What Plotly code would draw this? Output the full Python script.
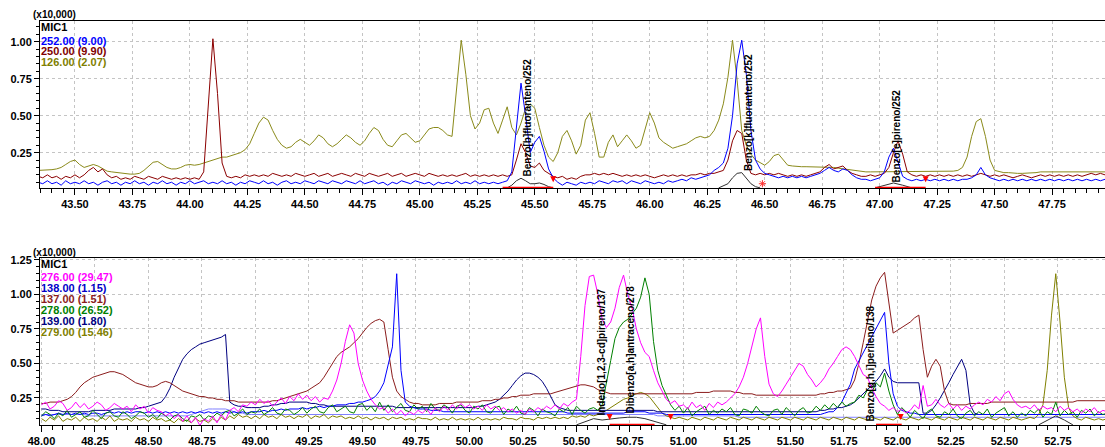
import numpy as np
import plotly.graph_objects as go

# ---------------- time grids (instrument sampling, minutes) ----------------
top_t = np.round(43.34 + 0.02 * np.arange(233), 2)
bot_t = np.round(48.00 + 0.02 * np.arange(250), 2)

# ---------------- TOP PANEL (x10,000) ----------------
top_126 = [
    0.13, 0.13, 0.13, 0.135, 0.14, 0.15, 0.17, 0.19, 0.20, 0.17,
    0.15, 0.16, 0.17, 0.16, 0.14, 0.125, 0.12, 0.115, 0.11, 0.11,
    0.105, 0.105, 0.11, 0.13, 0.16, 0.185, 0.19, 0.17, 0.15, 0.14,
    0.14, 0.15, 0.165, 0.17, 0.165, 0.17, 0.18, 0.19, 0.20, 0.21,
    0.22, 0.22, 0.23, 0.24, 0.25, 0.27, 0.31, 0.38, 0.45, 0.49,
    0.47, 0.40, 0.34, 0.30, 0.28, 0.29, 0.32, 0.34, 0.32, 0.30,
    0.33, 0.37, 0.35, 0.31, 0.29, 0.31, 0.34, 0.37, 0.35, 0.32,
    0.30, 0.33, 0.38, 0.42, 0.40, 0.34, 0.30, 0.29, 0.33, 0.37,
    0.38, 0.35, 0.32, 0.33, 0.37, 0.41, 0.42, 0.42, 0.40, 0.37,
    0.36, 0.70, 1.01, 0.78, 0.50, 0.41, 0.45, 0.54, 0.55, 0.45,
    0.38, 0.47, 0.56, 0.42, 0.37, 0.45, 0.55, 0.58, 0.55, 0.42,
    0.30, 0.22, 0.19, 0.25, 0.36, 0.40, 0.33, 0.24, 0.30, 0.47,
    0.52, 0.38, 0.22, 0.22, 0.32, 0.37, 0.29, 0.33, 0.37, 0.33,
    0.28, 0.30, 0.42, 0.52, 0.45, 0.35, 0.32, 0.30, 0.28, 0.29,
    0.30, 0.31, 0.33, 0.35, 0.36, 0.35, 0.36, 0.40, 0.47, 0.58,
    0.76, 1.01, 0.74, 0.40, 0.30, 0.24, 0.20, 0.18, 0.165, 0.19,
    0.23, 0.24, 0.20, 0.165, 0.16, 0.155, 0.155, 0.155, 0.155, 0.155,
    0.155, 0.15, 0.15, 0.15, 0.145, 0.14, 0.135, 0.13, 0.13, 0.125,
    0.12, 0.12, 0.12, 0.12, 0.12, 0.12, 0.12, 0.12, 0.12, 0.12,
    0.12, 0.12, 0.12, 0.12, 0.12, 0.12, 0.12, 0.12, 0.12, 0.125,
    0.13, 0.15, 0.22, 0.36, 0.46, 0.48, 0.36, 0.20, 0.13, 0.12,
    0.115, 0.115, 0.11, 0.11, 0.11, 0.11, 0.11, 0.115, 0.12, 0.12,
    0.12, 0.12, 0.12, 0.12, 0.12, 0.12, 0.12, 0.12, 0.12, 0.12,
    0.12, 0.12, 0.12,
]
top_250 = [
    0.09, 0.08, 0.10, 0.08, 0.09, 0.07, 0.09, 0.08, 0.10, 0.08,
    0.10, 0.13, 0.15, 0.12, 0.14, 0.10, 0.08, 0.09, 0.07, 0.08,
    0.07, 0.09, 0.08, 0.07, 0.09, 0.08, 0.07, 0.09, 0.08, 0.07,
    0.08, 0.07, 0.08, 0.07, 0.08, 0.07, 0.12, 0.55, 1.02, 0.65,
    0.18, 0.09, 0.08, 0.09, 0.08, 0.10, 0.09, 0.10, 0.09, 0.10,
    0.09, 0.11, 0.10, 0.09, 0.10, 0.09, 0.11, 0.10, 0.09, 0.10,
    0.11, 0.09, 0.10, 0.11, 0.09, 0.10, 0.11, 0.10, 0.09, 0.11,
    0.10, 0.09, 0.11, 0.10, 0.09, 0.10, 0.11, 0.09, 0.10, 0.11,
    0.09, 0.10, 0.11, 0.10, 0.09, 0.11, 0.10, 0.09, 0.10, 0.09,
    0.10, 0.09, 0.10, 0.11, 0.09, 0.10, 0.09, 0.10, 0.09, 0.10,
    0.09, 0.10, 0.09, 0.10, 0.20, 0.31, 0.25, 0.16, 0.15, 0.18,
    0.13, 0.11, 0.09, 0.08, 0.09, 0.07, 0.08, 0.07, 0.09, 0.10,
    0.10, 0.11, 0.10, 0.11, 0.10, 0.11, 0.10, 0.09, 0.10, 0.09,
    0.10, 0.09, 0.10, 0.09, 0.08, 0.09, 0.10, 0.09, 0.10, 0.09,
    0.10, 0.09, 0.10, 0.10, 0.11, 0.10, 0.11, 0.11, 0.12, 0.13,
    0.20, 0.33, 0.40, 0.38, 0.20, 0.11, 0.10, 0.11, 0.10, 0.11,
    0.10, 0.11, 0.10, 0.09, 0.10, 0.09, 0.10, 0.09, 0.10, 0.11,
    0.12, 0.15, 0.17, 0.14, 0.15, 0.16, 0.13, 0.11, 0.10, 0.09,
    0.09, 0.10, 0.09, 0.10, 0.11, 0.15, 0.25, 0.33, 0.24, 0.12,
    0.10, 0.09, 0.10, 0.09, 0.10, 0.09, 0.10, 0.09, 0.10, 0.09,
    0.10, 0.09, 0.10, 0.09, 0.10, 0.11, 0.10, 0.09, 0.10, 0.09,
    0.10, 0.09, 0.08, 0.09, 0.10, 0.09, 0.08, 0.09, 0.10, 0.09,
    0.10, 0.09, 0.10, 0.09, 0.10, 0.09, 0.10, 0.09, 0.10, 0.11,
    0.10, 0.11, 0.10,
]
top_252 = [
    0.05, 0.04, 0.06, 0.04, 0.05, 0.03, 0.06, 0.04, 0.05, 0.04,
    0.06, 0.04, 0.05, 0.03, 0.05, 0.06, 0.04, 0.05, 0.03, 0.05,
    0.04, 0.06, 0.04, 0.05, 0.03, 0.05, 0.04, 0.06, 0.04, 0.05,
    0.03, 0.05, 0.04, 0.06, 0.04, 0.05, 0.06, 0.04, 0.05, 0.04,
    0.06, 0.04, 0.05, 0.03, 0.05, 0.04, 0.06, 0.05, 0.04, 0.06,
    0.04, 0.05, 0.03, 0.05, 0.06, 0.04, 0.05, 0.04, 0.06, 0.05,
    0.04, 0.06, 0.05, 0.04, 0.06, 0.05, 0.04, 0.06, 0.05, 0.04,
    0.06, 0.04, 0.05, 0.06, 0.04, 0.05, 0.03, 0.05, 0.04, 0.06,
    0.05, 0.04, 0.06, 0.05, 0.04, 0.05, 0.03, 0.05, 0.04, 0.05,
    0.04, 0.06, 0.04, 0.05, 0.04, 0.06, 0.04, 0.05, 0.04, 0.05,
    0.04, 0.05, 0.06, 0.12, 0.42, 0.72, 0.50, 0.25, 0.32, 0.36,
    0.26, 0.14, 0.08, 0.05, 0.03, 0.05, 0.04, 0.03, 0.05, 0.04,
    0.05, 0.04, 0.06, 0.05, 0.04, 0.06, 0.05, 0.06, 0.04, 0.06,
    0.05, 0.04, 0.06, 0.05, 0.04, 0.05, 0.04, 0.06, 0.05, 0.06,
    0.07, 0.06, 0.08, 0.07, 0.08, 0.09, 0.10, 0.13, 0.15, 0.18,
    0.28, 0.50, 0.85, 1.01, 0.78, 0.40, 0.20, 0.14, 0.11, 0.10,
    0.09, 0.08, 0.09, 0.08, 0.09, 0.08, 0.09, 0.08, 0.09, 0.10,
    0.11, 0.13, 0.15, 0.13, 0.12, 0.14, 0.13, 0.10, 0.08, 0.07,
    0.07, 0.06, 0.07, 0.08, 0.12, 0.22, 0.28, 0.18, 0.09, 0.07,
    0.06, 0.07, 0.06, 0.07, 0.06, 0.07, 0.06, 0.07, 0.06, 0.07,
    0.06, 0.07, 0.07, 0.08, 0.10, 0.15, 0.10, 0.08, 0.07, 0.06,
    0.07, 0.06, 0.07, 0.06, 0.07, 0.06, 0.07, 0.06, 0.07, 0.06,
    0.07, 0.06, 0.07, 0.06, 0.07, 0.06, 0.07, 0.06, 0.07, 0.06,
    0.07, 0.06, 0.07,
]
top_tic_t = [45.38, 45.40, 45.42, 45.44, 45.46, 45.48, 45.50, 45.52, 45.54, 45.56, 45.58, None,
             46.30, 46.34, 46.36, 46.38, 46.40, 46.42, 46.44, 46.46, 46.48, None,
             46.98, 47.02, 47.06, 47.10, 47.14]
top_tic = [0.012, 0.03, 0.06, 0.077, 0.06, 0.04, 0.04, 0.045, 0.035, 0.02, 0.012, None,
           0.012, 0.04, 0.08, 0.11, 0.115, 0.08, 0.04, 0.02, 0.012, None,
           0.012, 0.03, 0.045, 0.03, 0.012]

# ---------------- BOTTOM PANEL (x10,000) ----------------
bot_276 = [
    0.20, 0.22, 0.17, 0.19, 0.23, 0.21, 0.16, 0.18, 0.22, 0.18,
    0.21, 0.17, 0.19, 0.22, 0.20, 0.16, 0.18, 0.21, 0.19, 0.17,
    0.19, 0.15, 0.20, 0.17, 0.19, 0.14, 0.18, 0.16, 0.15, 0.12,
    0.14, 0.10, 0.13, 0.08, 0.12, 0.07, 0.11, 0.05, 0.10, 0.08,
    0.12, 0.07, 0.13, 0.09, 0.16, 0.18, 0.15, 0.20, 0.19, 0.22,
    0.20, 0.24, 0.21, 0.23, 0.19, 0.22, 0.25, 0.21, 0.26, 0.23,
    0.28, 0.24, 0.27, 0.23, 0.26, 0.22, 0.25, 0.24, 0.30, 0.38,
    0.50, 0.66, 0.78, 0.72, 0.50, 0.38, 0.30, 0.24, 0.20, 0.17,
    0.18, 0.14, 0.17, 0.13, 0.16, 0.12, 0.15, 0.13, 0.16, 0.14,
    0.17, 0.13, 0.18, 0.15, 0.19, 0.16, 0.20, 0.17, 0.21, 0.18,
    0.20, 0.17, 0.19, 0.16, 0.20, 0.17, 0.19, 0.16, 0.18, 0.15,
    0.17, 0.14, 0.16, 0.13, 0.17, 0.15, 0.18, 0.16, 0.19, 0.17,
    0.20, 0.17, 0.21, 0.19, 0.22, 0.24, 0.55, 0.92, 1.13, 1.14,
    1.00, 0.82, 0.76, 0.80, 0.90, 1.05, 1.14, 1.00, 0.90, 0.75,
    0.65, 0.58, 0.55, 0.45, 0.36, 0.30, 0.24, 0.21, 0.23, 0.19,
    0.20, 0.17, 0.22, 0.18, 0.20, 0.16, 0.21, 0.18, 0.22, 0.20,
    0.22, 0.25, 0.28, 0.33, 0.40, 0.50, 0.62, 0.75, 0.83, 0.55,
    0.35, 0.28, 0.26, 0.30, 0.35, 0.40, 0.45, 0.50, 0.48, 0.42,
    0.38, 0.33, 0.36, 0.40, 0.46, 0.50, 0.55, 0.60, 0.62, 0.60,
    0.55, 0.48, 0.42, 0.40, 0.32, 0.26, 0.21, 0.19, 0.16, 0.18,
    0.15, 0.17, 0.14, 0.16, 0.20, 0.17, 0.34, 0.19, 0.20, 0.24,
    0.20, 0.18, 0.21, 0.17, 0.20, 0.16, 0.19, 0.17, 0.20, 0.22,
    0.20, 0.24, 0.22, 0.26, 0.23, 0.28, 0.30, 0.24, 0.20, 0.18,
    0.19, 0.17, 0.20, 0.16, 0.19, 0.17, 0.18, 0.15, 0.19, 0.16,
    0.18, 0.15, 0.17, 0.14, 0.17, 0.15, 0.18, 0.14, 0.16, 0.15,
]
bot_138 = [
    0.12, 0.13, 0.12, 0.13, 0.14, 0.13, 0.14, 0.13, 0.14, 0.13,
    0.14, 0.13, 0.14, 0.14, 0.13, 0.14, 0.15, 0.14, 0.15, 0.14,
    0.15, 0.14, 0.15, 0.15, 0.14, 0.15, 0.14, 0.15, 0.14, 0.15,
    0.14, 0.15, 0.14, 0.15, 0.14, 0.15, 0.14, 0.15, 0.14, 0.15,
    0.14, 0.15, 0.14, 0.15, 0.14, 0.15, 0.14, 0.15, 0.14, 0.15,
    0.15, 0.15, 0.16, 0.15, 0.16, 0.16, 0.17, 0.16, 0.17, 0.17,
    0.17, 0.18, 0.17, 0.18, 0.18, 0.19, 0.18, 0.19, 0.19, 0.20,
    0.20, 0.20, 0.21, 0.21, 0.22, 0.22, 0.23, 0.24, 0.26, 0.30,
    0.36, 0.48, 0.62, 1.15, 0.45, 0.22, 0.19, 0.18, 0.17, 0.17,
    0.17, 0.16, 0.16, 0.16, 0.15, 0.15, 0.15, 0.15, 0.15, 0.15,
    0.15, 0.15, 0.15, 0.15, 0.15, 0.15, 0.15, 0.15, 0.15, 0.15,
    0.15, 0.15, 0.15, 0.15, 0.15, 0.15, 0.15, 0.15, 0.15, 0.15,
    0.15, 0.15, 0.15, 0.14, 0.14, 0.14, 0.14, 0.14, 0.14, 0.14,
    0.14, 0.14, 0.14, 0.14, 0.14, 0.14, 0.14, 0.15, 0.15, 0.15,
    0.15, 0.15, 0.14, 0.14, 0.14, 0.14, 0.13, 0.13, 0.13, 0.13,
    0.13, 0.13, 0.13, 0.13, 0.13, 0.13, 0.13, 0.13, 0.13, 0.13,
    0.13, 0.13, 0.13, 0.13, 0.13, 0.13, 0.13, 0.13, 0.13, 0.13,
    0.13, 0.13, 0.13, 0.13, 0.13, 0.13, 0.13, 0.13, 0.13, 0.13,
    0.13, 0.13, 0.13, 0.14, 0.15, 0.15, 0.18, 0.22, 0.28, 0.35,
    0.46, 0.52, 0.58, 0.64, 0.70, 0.76, 0.82, 0.87, 0.50, 0.28,
    0.19, 0.16, 0.15, 0.14, 0.14, 0.13, 0.13, 0.13, 0.13, 0.13,
    0.13, 0.13, 0.13, 0.13, 0.13, 0.13, 0.13, 0.13, 0.13, 0.13,
    0.13, 0.13, 0.13, 0.13, 0.13, 0.13, 0.13, 0.13, 0.13, 0.13,
    0.13, 0.13, 0.13, 0.13, 0.13, 0.13, 0.13, 0.13, 0.13, 0.13,
    0.13, 0.13, 0.13, 0.13, 0.13, 0.13, 0.13, 0.13, 0.13, 0.13,
]
bot_137 = [
    0.21, 0.21, 0.22, 0.22, 0.22, 0.23, 0.24, 0.26, 0.29, 0.33,
    0.36, 0.38, 0.40, 0.41, 0.42, 0.43, 0.44, 0.44, 0.43, 0.42,
    0.40, 0.38, 0.36, 0.35, 0.34, 0.33, 0.33, 0.34, 0.36, 0.37,
    0.36, 0.34, 0.32, 0.30, 0.29, 0.28, 0.27, 0.26, 0.26, 0.25,
    0.25, 0.24, 0.24, 0.23, 0.23, 0.23, 0.22, 0.22, 0.22, 0.22,
    0.22, 0.22, 0.22, 0.22, 0.23, 0.23, 0.24, 0.25, 0.26, 0.27,
    0.28, 0.29, 0.30, 0.32, 0.34, 0.36, 0.40, 0.45, 0.50, 0.55,
    0.58, 0.60, 0.62, 0.65, 0.68, 0.72, 0.76, 0.79, 0.81, 0.82,
    0.80, 0.60, 0.40, 0.30, 0.26, 0.24, 0.22, 0.21, 0.21, 0.20,
    0.20, 0.20, 0.20, 0.21, 0.21, 0.21, 0.21, 0.22, 0.22, 0.22,
    0.22, 0.22, 0.22, 0.23, 0.23, 0.23, 0.24, 0.24, 0.25, 0.25,
    0.26, 0.26, 0.27, 0.27, 0.27, 0.28, 0.28, 0.28, 0.28, 0.28,
    0.29, 0.30, 0.31, 0.32, 0.33, 0.34, 0.345, 0.345, 0.34, 0.33,
    0.31, 0.30, 0.29, 0.28, 0.28, 0.28, 0.28, 0.28, 0.28, 0.28,
    0.28, 0.28, 0.28, 0.28, 0.28, 0.28, 0.28, 0.28, 0.28, 0.28,
    0.28, 0.28, 0.28, 0.29, 0.29, 0.29, 0.29, 0.30, 0.30, 0.30,
    0.30, 0.30, 0.29, 0.29, 0.28, 0.28, 0.28, 0.27, 0.27, 0.27,
    0.27, 0.27, 0.27, 0.27, 0.27, 0.27, 0.27, 0.27, 0.27, 0.27,
    0.27, 0.27, 0.28, 0.28, 0.29, 0.29, 0.30, 0.30, 0.31, 0.32,
    0.38, 0.50, 0.65, 0.80, 0.96, 1.06, 1.12, 1.16, 0.95, 0.72,
    0.74, 0.76, 0.78, 0.80, 0.83, 0.85, 0.60, 0.40, 0.48, 0.53,
    0.48, 0.30, 0.21, 0.20, 0.20, 0.20, 0.20, 0.21, 0.21, 0.21,
    0.21, 0.21, 0.22, 0.22, 0.22, 0.22, 0.22, 0.22, 0.22, 0.22,
    0.22, 0.22, 0.22, 0.22, 0.22, 0.22, 0.22, 0.22, 0.22, 0.22,
    0.22, 0.22, 0.23, 0.23, 0.23, 0.23, 0.23, 0.23, 0.23, 0.23,
]
bot_278 = [
    0.12, 0.15, 0.13, 0.10, 0.14, 0.12, 0.16, 0.11, 0.13, 0.15,
    0.11, 0.12, 0.16, 0.13, 0.10, 0.14, 0.15, 0.12, 0.11, 0.15,
    0.13, 0.10, 0.12, 0.15, 0.14, 0.11, 0.13, 0.10, 0.14, 0.12,
    0.09, 0.12, 0.13, 0.10, 0.08, 0.12, 0.11, 0.13, 0.09, 0.12,
    0.11, 0.14, 0.12, 0.15, 0.16, 0.12, 0.14, 0.17, 0.13, 0.15,
    0.14, 0.17, 0.13, 0.15, 0.18, 0.14, 0.13, 0.17, 0.16, 0.13,
    0.15, 0.18, 0.14, 0.17, 0.19, 0.15, 0.14, 0.18, 0.20, 0.15,
    0.17, 0.19, 0.15, 0.14, 0.20, 0.21, 0.16, 0.19, 0.15, 0.22,
    0.16, 0.20, 0.15, 0.18, 0.21, 0.16, 0.15, 0.20, 0.17, 0.19,
    0.15, 0.21, 0.17, 0.16, 0.20, 0.18, 0.14, 0.19, 0.20, 0.16,
    0.14, 0.19, 0.17, 0.20, 0.15, 0.14, 0.18, 0.19, 0.13, 0.17,
    0.15, 0.19, 0.14, 0.13, 0.18, 0.16, 0.12, 0.17, 0.15, 0.14,
    0.12, 0.17, 0.15, 0.18, 0.13, 0.19, 0.16, 0.14, 0.17, 0.18,
    0.16, 0.20, 0.35, 0.52, 0.68, 0.76, 0.80, 0.82, 0.86, 0.90,
    0.98, 1.12, 1.00, 0.66, 0.45, 0.34, 0.27, 0.20, 0.16, 0.19,
    0.14, 0.18, 0.12, 0.15, 0.17, 0.19, 0.13, 0.16, 0.14, 0.17,
    0.15, 0.18, 0.13, 0.12, 0.17, 0.16, 0.14, 0.19, 0.15, 0.13,
    0.12, 0.16, 0.17, 0.13, 0.18, 0.15, 0.12, 0.16, 0.18, 0.14,
    0.15, 0.19, 0.16, 0.20, 0.17, 0.21, 0.18, 0.22, 0.19, 0.21,
    0.22, 0.27, 0.25, 0.31, 0.29, 0.36, 0.33, 0.43, 0.30, 0.20,
    0.13, 0.18, 0.15, 0.11, 0.16, 0.13, 0.10, 0.15, 0.17, 0.12,
    0.11, 0.15, 0.13, 0.17, 0.12, 0.10, 0.14, 0.16, 0.12, 0.15,
    0.13, 0.17, 0.11, 0.14, 0.16, 0.18, 0.12, 0.15, 0.11, 0.14,
    0.12, 0.16, 0.14, 0.17, 0.11, 0.15, 0.13, 0.22, 0.12, 0.16,
    0.13, 0.15, 0.11, 0.16, 0.14, 0.17, 0.12, 0.15, 0.13, 0.14,
]
bot_139 = [
    0.17, 0.17, 0.16, 0.16, 0.16, 0.15, 0.15, 0.15, 0.15, 0.15,
    0.15, 0.15, 0.16, 0.16, 0.16, 0.16, 0.16, 0.17, 0.17, 0.17,
    0.17, 0.17, 0.17, 0.18, 0.18, 0.19, 0.20, 0.21, 0.22, 0.26,
    0.32, 0.40, 0.47, 0.53, 0.57, 0.60, 0.62, 0.64, 0.65, 0.66,
    0.67, 0.68, 0.69, 0.71, 0.22, 0.20, 0.19, 0.19, 0.18, 0.18,
    0.18, 0.18, 0.19, 0.19, 0.20, 0.20, 0.21, 0.21, 0.22, 0.22,
    0.22, 0.22, 0.22, 0.21, 0.21, 0.20, 0.20, 0.19, 0.19, 0.19,
    0.19, 0.19, 0.19, 0.19, 0.19, 0.19, 0.19, 0.19, 0.19, 0.19,
    0.19, 0.19, 0.19, 0.18, 0.18, 0.18, 0.18, 0.18, 0.18, 0.18,
    0.18, 0.18, 0.18, 0.18, 0.18, 0.18, 0.18, 0.18, 0.18, 0.18,
    0.18, 0.18, 0.19, 0.19, 0.20, 0.21, 0.22, 0.24, 0.27, 0.30,
    0.34, 0.38, 0.41, 0.43, 0.43, 0.42, 0.40, 0.37, 0.32, 0.26,
    0.20, 0.18, 0.17, 0.16, 0.16, 0.16, 0.16, 0.16, 0.16, 0.16,
    0.16, 0.16, 0.16, 0.16, 0.16, 0.16, 0.16, 0.16, 0.16, 0.16,
    0.16, 0.16, 0.16, 0.16, 0.15, 0.15, 0.15, 0.15, 0.15, 0.15,
    0.15, 0.15, 0.15, 0.15, 0.15, 0.15, 0.15, 0.15, 0.15, 0.15,
    0.15, 0.15, 0.15, 0.15, 0.15, 0.15, 0.15, 0.15, 0.15, 0.15,
    0.15, 0.15, 0.15, 0.15, 0.15, 0.15, 0.15, 0.15, 0.15, 0.15,
    0.15, 0.15, 0.16, 0.16, 0.17, 0.17, 0.18, 0.18, 0.19, 0.20,
    0.22, 0.25, 0.28, 0.31, 0.34, 0.37, 0.41, 0.46, 0.40, 0.37,
    0.36, 0.36, 0.36, 0.36, 0.36, 0.36, 0.14, 0.14, 0.16, 0.20,
    0.25, 0.30, 0.36, 0.42, 0.48, 0.53, 0.45, 0.20, 0.14, 0.13,
    0.13, 0.13, 0.13, 0.13, 0.13, 0.13, 0.13, 0.13, 0.13, 0.13,
    0.13, 0.13, 0.13, 0.13, 0.13, 0.13, 0.13, 0.13, 0.13, 0.13,
    0.13, 0.13, 0.13, 0.13, 0.13, 0.13, 0.13, 0.13, 0.13, 0.13,
]
bot_279 = [
    0.10, 0.08, 0.11, 0.09, 0.12, 0.08, 0.10, 0.09, 0.11, 0.08,
    0.11, 0.09, 0.10, 0.08, 0.11, 0.09, 0.12, 0.08, 0.10, 0.09,
    0.10, 0.08, 0.11, 0.09, 0.10, 0.08, 0.11, 0.09, 0.10, 0.08,
    0.09, 0.07, 0.10, 0.08, 0.09, 0.07, 0.10, 0.08, 0.09, 0.07,
    0.10, 0.08, 0.11, 0.09, 0.12, 0.10, 0.13, 0.11, 0.12, 0.10,
    0.12, 0.10, 0.13, 0.11, 0.12, 0.10, 0.13, 0.11, 0.12, 0.10,
    0.12, 0.11, 0.13, 0.10, 0.12, 0.11, 0.13, 0.10, 0.12, 0.11,
    0.12, 0.10, 0.11, 0.10, 0.12, 0.10, 0.11, 0.09, 0.11, 0.10,
    0.11, 0.09, 0.11, 0.10, 0.11, 0.09, 0.10, 0.09, 0.11, 0.10,
    0.10, 0.09, 0.11, 0.09, 0.10, 0.09, 0.11, 0.09, 0.10, 0.09,
    0.10, 0.09, 0.11, 0.09, 0.10, 0.09, 0.10, 0.09, 0.11, 0.10,
    0.10, 0.09, 0.11, 0.10, 0.10, 0.09, 0.11, 0.10, 0.11, 0.10,
    0.11, 0.10, 0.11, 0.10, 0.12, 0.11, 0.12, 0.11, 0.13, 0.12,
    0.13, 0.14, 0.16, 0.18, 0.20, 0.22, 0.24, 0.25, 0.27, 0.28,
    0.29, 0.28, 0.26, 0.22, 0.18, 0.14, 0.12, 0.11, 0.10, 0.11,
    0.10, 0.09, 0.11, 0.10, 0.09, 0.11, 0.10, 0.09, 0.11, 0.10,
    0.09, 0.11, 0.10, 0.09, 0.11, 0.10, 0.09, 0.11, 0.10, 0.09,
    0.11, 0.10, 0.09, 0.11, 0.10, 0.09, 0.11, 0.10, 0.09, 0.11,
    0.10, 0.09, 0.11, 0.10, 0.09, 0.11, 0.10, 0.09, 0.11, 0.10,
    0.09, 0.11, 0.10, 0.09, 0.11, 0.10, 0.09, 0.11, 0.10, 0.09,
    0.11, 0.10, 0.09, 0.11, 0.10, 0.09, 0.11, 0.10, 0.09, 0.11,
    0.10, 0.09, 0.11, 0.10, 0.09, 0.11, 0.10, 0.09, 0.11, 0.10,
    0.09, 0.11, 0.10, 0.09, 0.11, 0.10, 0.09, 0.11, 0.10, 0.09,
    0.10, 0.11, 0.10, 0.13, 0.20, 0.45, 0.85, 1.15, 0.80, 0.40,
    0.18, 0.12, 0.10, 0.09, 0.11, 0.10, 0.09, 0.10, 0.09, 0.10,
]
bot_base = [
    0.13, 0.13, 0.13, 0.13, 0.13, 0.13, 0.13, 0.13, 0.13, 0.13,
    0.13, 0.12, 0.12, 0.12, 0.12, 0.12, 0.12, 0.12, 0.12, 0.12,
    0.12, 0.12, 0.12, 0.12, 0.12, 0.12, 0.12, 0.12, 0.12, 0.12,
    0.12, 0.12, 0.12, 0.12, 0.12, 0.13, 0.14, 0.15, 0.16, 0.17,
    0.17, 0.17, 0.17, 0.17, 0.16, 0.15, 0.14, 0.14, 0.13, 0.13,
    0.13, 0.13, 0.13, 0.13, 0.13, 0.13, 0.13, 0.13, 0.13, 0.13,
    0.13, 0.13, 0.13, 0.13, 0.13, 0.13, 0.13, 0.13, 0.13, 0.13,
    0.13, 0.13, 0.13, 0.13, 0.13, 0.13, 0.13, 0.13, 0.13, 0.13,
    0.13, 0.13, 0.13, 0.13, 0.13, 0.13, 0.13, 0.13, 0.13, 0.13,
    0.13, 0.13, 0.13, 0.13, 0.13, 0.13, 0.13, 0.13, 0.13, 0.13,
    0.13, 0.13, 0.13, 0.13, 0.13, 0.13, 0.13, 0.13, 0.13, 0.13,
    0.13, 0.13, 0.13, 0.13, 0.13, 0.13, 0.13, 0.13, 0.13, 0.13,
    0.13, 0.13, 0.13, 0.13, 0.13, 0.13, 0.13, 0.13, 0.13, 0.13,
    0.13, 0.13, 0.13, 0.13, 0.13, 0.13, 0.13, 0.13, 0.13, 0.13,
    0.13, 0.13, 0.13, 0.13, 0.12, 0.12, 0.12, 0.12, 0.12, 0.12,
    0.12, 0.12, 0.12, 0.12, 0.12, 0.12, 0.12, 0.12, 0.12, 0.12,
    0.12, 0.12, 0.12, 0.11, 0.11, 0.11, 0.11, 0.11, 0.11, 0.11,
    0.11, 0.11, 0.11, 0.11, 0.11, 0.11, 0.11, 0.11, 0.11, 0.11,
    0.11, 0.11, 0.11, 0.11, 0.11, 0.11, 0.11, 0.11, 0.11, 0.11,
    0.11, 0.11, 0.11, 0.11, 0.11, 0.11, 0.11, 0.11, 0.11, 0.11,
    0.11, 0.11, 0.11, 0.11, 0.11, 0.11, 0.11, 0.11, 0.11, 0.11,
    0.11, 0.11, 0.11, 0.11, 0.11, 0.11, 0.11, 0.11, 0.11, 0.11,
    0.11, 0.11, 0.11, 0.11, 0.11, 0.11, 0.11, 0.11, 0.11, 0.11,
    0.11, 0.11, 0.11, 0.11, 0.11, 0.11, 0.11, 0.11, 0.11, 0.11,
    0.11, 0.11, 0.11, 0.11, 0.11, 0.11, 0.11, 0.11, 0.11, 0.11,
]
bot_tic_t = [50.50, 50.54, 50.58, 50.62, 50.66, 50.70, 50.74, 50.78, 50.82, 50.86, 50.90, 50.92, None,
             52.66, 52.70, 52.74, 52.78, 52.82]
bot_tic = [0.055, 0.08, 0.10, 0.09, 0.10, 0.105, 0.11, 0.11, 0.10, 0.08, 0.06, 0.055, None,
           0.055, 0.09, 0.12, 0.09, 0.055]

# integration marks
top_int_t = [45.36, 45.58, None, 46.98, 47.20]
top_int_y = [0.014, 0.014, None, 0.014, 0.014]
top_arrow_t = [45.58, 47.20]
top_star_t = [46.49]
bot_int_t = [50.655, 50.865, None, 51.90, 52.02]
bot_int_y = [0.058, 0.058, None, 0.058, 0.058]
bot_arrow_t = [50.655, 50.94, 52.015]

# peak labels
top_peaks = [("Benzo[b]fluoranteno/252", 45.468, 0.085),
             ("Benzo[k]fluoranteno/252", 46.43, 0.12),
             ("Benzo[e]pireno/252", 47.075, 0.045)]
bot_peaks = [("Indeno[1,2,3-cd]pireno/137", 50.617, 0.115),
             ("Dibenzo[a,h]antraceno/278", 50.753, 0.127),
             ("Benzo[g,h,i]perileno/138", 51.875, 0.07)]

top_legend = [("252.00 (9.00)", "#0000ff"), ("250.00 (9.90)", "#800000"), ("126.00 (2.07)", "#808000")]
bot_legend = [("276.00 (29.47)", "#ff00ff"), ("138.00 (1.15)", "#0000c8"), ("137.00 (1.51)", "#8b1c1c"),
              ("278.00 (26.52)", "#008000"), ("139.00 (1.80)", "#000080"), ("279.00 (15.46)", "#808000")]

# ---------------- figure ----------------
fig = go.Figure()


def line(x, y, color, ax, width=1.0):
    n = min(len(x), len(y))
    fig.add_trace(go.Scatter(x=list(x)[:n], y=list(y)[:n], mode="lines",
                             line=dict(color=color, width=width),
                             xaxis="x" if ax == 1 else "x2", yaxis="y" if ax == 1 else "y2",
                             hoverinfo="skip", showlegend=False, connectgaps=False))


line(top_t, top_126, "#8a8a1a", 1)
line(top_t, top_250, "#8b0000", 1)
line(top_t, top_252, "#0000ff", 1)
line(top_tic_t, top_tic, "#303030", 1)
line(top_int_t, top_int_y, "#ff0000", 1, 1.5)
fig.add_trace(go.Scatter(x=top_arrow_t, y=[0.05] * len(top_arrow_t), mode="markers",
                         marker=dict(symbol="arrow-down", size=6, color="#ff0000"),
                         xaxis="x", yaxis="y", hoverinfo="skip", showlegend=False))
fig.add_trace(go.Scatter(x=top_star_t, y=[0.04], mode="markers",
                         marker=dict(symbol="asterisk-open", size=6, color="#ff3030", line=dict(width=1, color="#ff3030")),
                         xaxis="x", yaxis="y", hoverinfo="skip", showlegend=False))

line(bot_t, bot_base, "#8080ff", 2)
line(bot_t, bot_279, "#808000", 2)
line(bot_t, bot_139, "#000080", 2)
line(bot_t, bot_137, "#8b1c1c", 2)
line(bot_t, bot_138, "#0000ff", 2)
line(bot_t, bot_278, "#008000", 2)
line(bot_t, bot_276, "#ff00ff", 2)
line(bot_tic_t, bot_tic, "#303030", 2)
line(bot_int_t, bot_int_y, "#ff0000", 2, 1.5)
fig.add_trace(go.Scatter(x=bot_arrow_t, y=[0.09] * len(bot_arrow_t), mode="markers",
                         marker=dict(symbol="arrow-down", size=6, color="#ff0000"),
                         xaxis="x2", yaxis="y2", hoverinfo="skip", showlegend=False))

tickfont = dict(family="Liberation Sans, Arial, sans-serif", size=11, color="#000000", weight="bold")
common_x = dict(showline=True, linecolor="#000000", linewidth=1, mirror=True,
                ticks="outside", ticklen=6, tickcolor="#000000", tickwidth=1,
                dtick=0.25, tickformat=".2f", tickfont=tickfont,
                showgrid=True, gridcolor="#c4c4c4", griddash="3px,3px", gridwidth=1,
                zeroline=False,
                minor=dict(dtick=0.05, ticks="outside", ticklen=4, tickcolor="#000000", showgrid=False))
common_y = dict(showline=True, linecolor="#000000", linewidth=1,
                ticks="outside", ticklen=5, tickcolor="#000000", tickwidth=1,
                dtick=0.25, tick0=0, tickformat=".2f", tickfont=tickfont,
                showgrid=True, gridcolor="#c4c4c4", griddash="3px,3px", gridwidth=1,
                zeroline=False,
                minor=dict(dtick=0.05, ticks="outside", ticklen=3, tickcolor="#000000", showgrid=False))

fig.update_layout(
    width=1105, height=447,
    margin=dict(l=40, r=0, t=21, b=22),
    paper_bgcolor="#ffffff", plot_bgcolor="#ffffff",
    font=dict(family="Liberation Sans, Arial, sans-serif", color="#000000"),
    xaxis=dict(common_x, domain=[0, 1], range=[43.348, 47.98], anchor="y", tick0=43.5),
    yaxis=dict(common_y, domain=[0.5866, 1.0], range=[0.011, 1.14], anchor="x"),
    xaxis2=dict(common_x, domain=[0, 1], range=[47.993, 52.97], anchor="y2", tick0=48.0),
    yaxis2=dict(common_y, domain=[0.0, 0.4134], range=[0.054, 1.264], anchor="x2"),
)

ann = []
lf = dict(family="Liberation Sans, Arial, sans-serif", size=10, weight="bold")


def paper_y(py):
    return (425.0 - py) / 404.0


def label(text, px, py, color, size=11):
    ann.append(dict(text=text, x=(px - 40) / 1065.0, y=paper_y(py), xref="paper", yref="paper",
                    xanchor="left", yanchor="middle", showarrow=False, borderpad=0,
                    font=dict(lf, color=color, size=size)))


label("(x10,000)", 32, 15, "#000000", 10)
label("MIC1", 40, 27, "#000000", 11)
for i, (txt, col) in enumerate(top_legend):
    label(txt, 40, 40.5 + i * 11, col)
label("(x10,000)", 32, 252, "#000000", 10)
label("MIC1", 40, 264, "#000000", 11)
for i, (txt, col) in enumerate(bot_legend):
    label(txt, 40, 276.5 + i * 11.1, col)

for txt, xv, yv in top_peaks:
    ann.append(dict(text=txt, x=xv, y=yv, xref="x", yref="y", textangle=-90,
                    xanchor="center", yanchor="bottom", showarrow=False, borderpad=0,
                    font=dict(lf, color="#000000", size=10)))
for txt, xv, yv in bot_peaks:
    ann.append(dict(text=txt, x=xv, y=yv, xref="x2", yref="y2", textangle=-90,
                    xanchor="center", yanchor="bottom", showarrow=False, borderpad=0,
                    font=dict(lf, color="#000000", size=10)))

fig.update_layout(annotations=ann)
fig.write_html("out.html")
